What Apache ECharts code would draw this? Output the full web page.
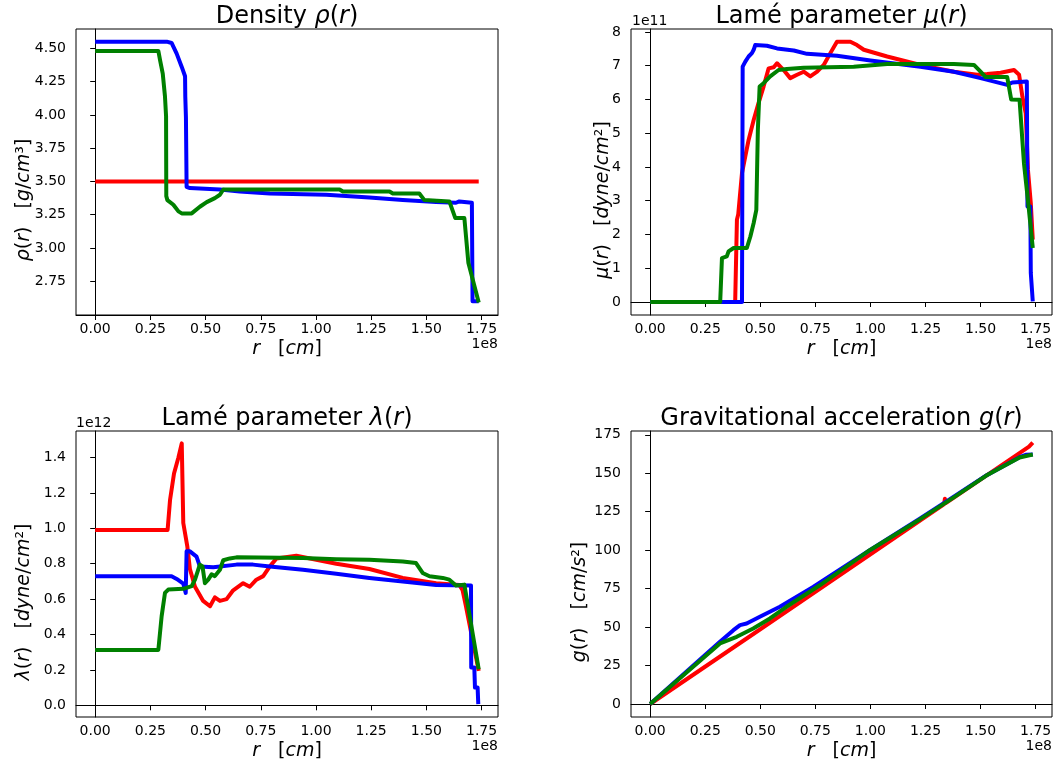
<!DOCTYPE html>
<html>
<head>
<meta charset="utf-8">
<script src="https://cdn.jsdelivr.net/npm/echarts@6/dist/echarts.min.js"></script>
<style>
html,body{margin:0;padding:0;background:#fff;}
#chart{width:1055px;height:765px;}
</style>
</head>
<body>
<div id="chart"></div>
<script>
// r in units of 1e8 cm
const rTicks = [0, 0.25, 0.5, 0.75, 1.0, 1.25, 1.5, 1.75];
const densityTicks = [2.75, 3.0, 3.25, 3.5, 3.75, 4.0, 4.25, 4.5];
const muTicks = [0, 1, 2, 3, 4, 5, 6, 7, 8];          // x 1e11
const lambdaTicks = [0, 0.2, 0.4, 0.6, 0.8, 1.0, 1.2, 1.4]; // x 1e12
const gTicks = [0, 25, 50, 75, 100, 125, 150, 175];

// Density rho(r) [g/cm^3]
const densityRed = [[0, 3.5], [1.737, 3.5]];
const densityBlue = [[0, 4.55], [0.324, 4.55], [0.346, 4.54], [0.369, 4.46], [0.392, 4.36], [0.407, 4.29], [0.408, 4.14], [0.411, 3.98], [0.414, 3.46], [0.429, 3.45], [0.565, 3.44], [0.655, 3.425], [0.791, 3.41], [1.047, 3.40], [1.242, 3.38], [1.393, 3.36], [1.544, 3.345], [1.634, 3.34], [1.649, 3.35], [1.706, 3.34], [1.709, 2.60], [1.737, 2.60]];
const densityGreen = [[0, 4.48], [0.286, 4.48], [0.294, 4.41], [0.306, 4.31], [0.316, 4.14], [0.321, 3.99], [0.322, 3.39], [0.327, 3.36], [0.354, 3.325], [0.377, 3.275], [0.392, 3.26], [0.437, 3.26], [0.474, 3.31], [0.505, 3.345], [0.542, 3.375], [0.565, 3.40], [0.580, 3.44], [1.107, 3.44], [1.122, 3.425], [1.333, 3.425], [1.348, 3.41], [1.468, 3.41], [1.491, 3.36], [1.604, 3.35], [1.631, 3.225], [1.672, 3.225], [1.690, 2.89], [1.737, 2.59]];

// Lame parameter mu(r) [1e11 dyne/cm^2]
const muRed = [[0, 0], [0.386, 0], [0.394, 2.44], [0.400, 2.6], [0.417, 3.82], [0.432, 4.31], [0.447, 4.8], [0.470, 5.39], [0.492, 5.89], [0.515, 6.38], [0.538, 6.92], [0.561, 6.95], [0.576, 7.07], [0.606, 6.87], [0.636, 6.63], [0.667, 6.73], [0.697, 6.82], [0.727, 6.68], [0.758, 6.82], [0.788, 7.02], [0.818, 7.37], [0.848, 7.71], [0.909, 7.71], [0.939, 7.61], [0.970, 7.47], [1.076, 7.27], [1.227, 7.02], [1.379, 6.82], [1.485, 6.73], [1.530, 6.75], [1.591, 6.79], [1.652, 6.87], [1.675, 6.73], [1.690, 6.08], [1.705, 5.59], [1.715, 3.92], [1.728, 2.93], [1.737, 1.85]];
const muBlue = [[0, 0], [0.417, 0], [0.420, 6.97], [0.432, 7.12], [0.447, 7.27], [0.462, 7.37], [0.470, 7.47], [0.477, 7.61], [0.530, 7.59], [0.576, 7.51], [0.652, 7.45], [0.712, 7.35], [0.848, 7.29], [1.0, 7.15], [1.227, 6.97], [1.379, 6.82], [1.5, 6.63], [1.621, 6.43], [1.644, 6.5], [1.710, 6.53], [1.713, 2.83], [1.726, 2.83], [1.728, 0.86], [1.735, 0.81], [1.737, 0.02]];
const muGreen = [[0, 0], [0.318, 0], [0.326, 1.30], [0.348, 1.35], [0.356, 1.5], [0.379, 1.6], [0.439, 1.6], [0.455, 1.94], [0.470, 2.34], [0.482, 2.73], [0.489, 5.1], [0.497, 6.38], [0.515, 6.48], [0.545, 6.68], [0.583, 6.87], [0.621, 6.9], [0.697, 6.94], [0.924, 6.97], [1.076, 7.05], [1.379, 7.05], [1.470, 7.02], [1.5, 6.82], [1.523, 6.66], [1.621, 6.66], [1.639, 6.0], [1.677, 5.99], [1.697, 4.11], [1.718, 2.83], [1.737, 1.6]];

// Lame parameter lambda(r) [1e12 dyne/cm^2]
const lambdaRed = [[0, 0.991], [0.328, 0.991], [0.339, 1.16], [0.357, 1.31], [0.377, 1.40], [0.392, 1.48], [0.399, 1.03], [0.408, 1.02], [0.417, 0.90], [0.429, 0.77], [0.452, 0.67], [0.489, 0.59], [0.520, 0.56], [0.542, 0.61], [0.565, 0.59], [0.595, 0.60], [0.625, 0.65], [0.670, 0.69], [0.700, 0.67], [0.730, 0.71], [0.761, 0.73], [0.791, 0.785], [0.821, 0.83], [0.911, 0.845], [1.092, 0.80], [1.242, 0.77], [1.393, 0.72], [1.544, 0.69], [1.649, 0.68], [1.664, 0.65], [1.679, 0.56], [1.737, 0.195]];
const lambdaBlue = [[0, 0.729], [0.346, 0.729], [0.369, 0.714], [0.399, 0.688], [0.410, 0.635], [0.414, 0.87], [0.429, 0.87], [0.459, 0.84], [0.474, 0.785], [0.535, 0.78], [0.640, 0.795], [0.715, 0.795], [0.791, 0.785], [0.941, 0.766], [1.092, 0.744], [1.242, 0.72], [1.393, 0.70], [1.544, 0.68], [1.702, 0.677], [1.703, 0.214], [1.717, 0.214], [1.720, 0.10], [1.732, 0.10], [1.735, 0.007]];
const lambdaGreen = [[0, 0.313], [0.286, 0.313], [0.301, 0.504], [0.316, 0.635], [0.331, 0.654], [0.399, 0.658], [0.437, 0.673], [0.452, 0.71], [0.474, 0.795], [0.486, 0.785], [0.497, 0.69], [0.512, 0.71], [0.527, 0.74], [0.542, 0.73], [0.565, 0.766], [0.580, 0.82], [0.610, 0.83], [0.640, 0.836], [0.941, 0.832], [1.092, 0.826], [1.242, 0.823], [1.393, 0.813], [1.453, 0.804], [1.483, 0.748], [1.514, 0.729], [1.574, 0.72], [1.604, 0.71], [1.634, 0.677], [1.672, 0.682], [1.737, 0.204]];

// Gravitational acceleration g(r) [cm/s^2]
const gRed = [[0, 0], [0.5, 48.6], [1.0, 97.3], [1.335, 130.0], [1.338, 133.5], [1.342, 130.6], [1.72, 167.4], [1.737, 170.0]];
const gBlue = [[0, 0], [0.317, 40.4], [0.378, 48.0], [0.408, 51.3], [0.438, 52.3], [0.498, 56.7], [0.589, 63.2], [0.740, 76.1], [0.997, 100.0], [1.224, 120.5], [1.375, 134.5], [1.526, 148.6], [1.677, 160.5], [1.705, 162.0], [1.737, 162.2]];
const gGreen = [[0, 0], [0.317, 39.4], [0.393, 43.7], [0.468, 49.1], [0.544, 55.6], [0.619, 63.2], [0.770, 77.2], [0.997, 100.0], [1.224, 120.0], [1.375, 134.0], [1.526, 148.5], [1.677, 160.3], [1.737, 162.2]];

const FONT = 'DejaVu Sans';
const grids = [
  {left: 76, top: 29, width: 422, height: 286},
  {left: 631, top: 29, width: 421, height: 286},
  {left: 76, top: 431, width: 422, height: 286},
  {left: 631, top: 431, width: 421, height: 286}
];
const yRanges = [[2.497, 4.645], [-0.385, 8.085], [-0.066, 1.55], [-8.45, 177.5]];
const yTickSets = [densityTicks, muTicks, lambdaTicks, gTicks];
const yFormats = [v => v.toFixed(2), v => String(Math.round(v)), v => v.toFixed(1), v => String(Math.round(v))];
const seriesSets = [
  [densityRed, densityBlue, densityGreen],
  [muRed, muBlue, muGreen],
  [lambdaRed, lambdaBlue, lambdaGreen],
  [gRed, gBlue, gGreen]
];
const colors = ['#ff0000', '#0000ff', '#008000'];

const labelStyle = {color: '#000', fontSize: 14, fontFamily: FONT};
const xAxes = grids.map((g, i) => ({
  type: 'value', gridIndex: i, min: -0.0869, max: 1.8243,
  axisLine: {show: true, lineStyle: {color: '#000', width: 1}},
  axisTick: {show: true, length: 5, lineStyle: {color: '#000', width: 1}, customValues: rTicks},
  axisLabel: Object.assign({show: true, margin: 7, customValues: rTicks, formatter: v => v.toFixed(2)}, labelStyle),
  splitLine: {show: false}
}));
const yAxes = grids.map((g, i) => ({
  type: 'value', gridIndex: i, min: yRanges[i][0], max: yRanges[i][1],
  axisLine: {show: true, lineStyle: {color: '#000', width: 1}},
  axisTick: {show: true, length: 5, lineStyle: {color: '#000', width: 1}, customValues: yTickSets[i]},
  axisLabel: Object.assign({show: true, margin: 10, customValues: yTickSets[i], formatter: yFormats[i]}, labelStyle),
  splitLine: {show: false}
}));
const series = [];
seriesSets.forEach((set, i) => {
  set.forEach((d, k) => {
    series.push({
      type: 'line', xAxisIndex: i, yAxisIndex: i, data: d,
      symbol: 'none', showSymbol: false, silent: true, clip: true,
      lineStyle: {color: colors[k], width: 4, join: 'round'},
      z: 2 + k
    });
  });
});

const rich = (size) => ({
  n: {fontFamily: FONT, fontSize: size, color: '#000'},
  i: {fontFamily: FONT, fontSize: size, fontStyle: 'italic', color: '#000'}
});
function txt(x, y, text, size, align, rot) {
  return {
    type: 'text', x: x, y: y, rotation: rot || 0, silent: true,
    style: {text: text, fontFamily: FONT, fontSize: size, fill: '#000', align: align || 'center', verticalAlign: 'middle', rich: rich(size)}
  };
}
const titles = [
  '{n|Density }{i|ρ}{n|(}{i|r}{n|)}',
  '{n|Lamé parameter }{i|μ}{n|(}{i|r}{n|)}',
  '{n|Lamé parameter }{i|λ}{n|(}{i|r}{n|)}',
  '{n|Gravitational acceleration }{i|g}{n|(}{i|r}{n|)}'
];
const yLabels = [
  '{i|ρ}{n|(}{i|r}{n|)   [}{i|g}{n|/}{i|cm}{n|³]}',
  '{i|μ}{n|(}{i|r}{n|)   [}{i|dyne}{n|/}{i|cm}{n|²]}',
  '{i|λ}{n|(}{i|r}{n|)   [}{i|dyne}{n|/}{i|cm}{n|²]}',
  '{i|g}{n|(}{i|r}{n|)   [}{i|cm}{n|/}{i|s}{n|²]}'
];
const xLabel = '{i|r}{n|   [}{i|cm}{n|]}';
const yLabelX = [24, 603, 24, 580];
const graphics = [];
grids.forEach((g, i) => {
  const cx = g.left + g.width / 2;
  graphics.push(txt(cx, g.top - 12.5, titles[i], 24, 'center'));
  graphics.push(txt(cx, g.top + g.height + 34, xLabel, 19, 'center'));
  graphics.push(txt(g.left + g.width, g.top + g.height + 29, '1e8', 14, 'right'));
  graphics.push(txt(yLabelX[i], g.top + g.height / 2 + 28, yLabels[i], 19, 'center', Math.PI / 2));
});
graphics.push(txt(grids[1].left + 1, grids[1].top - 8, '1e11', 14, 'left'));
graphics.push(txt(grids[2].left, grids[2].top - 8, '1e12', 14, 'left'));

const chart = echarts.init(document.getElementById('chart'));
chart.setOption({
  animation: false,
  backgroundColor: '#fff',
  grid: grids.map(g => Object.assign({show: true, borderColor: '#000', borderWidth: 1, backgroundColor: 'transparent', containLabel: false}, g)),
  xAxis: xAxes,
  yAxis: yAxes,
  series: series,
  graphic: graphics
});
</script>
</body>
</html>
